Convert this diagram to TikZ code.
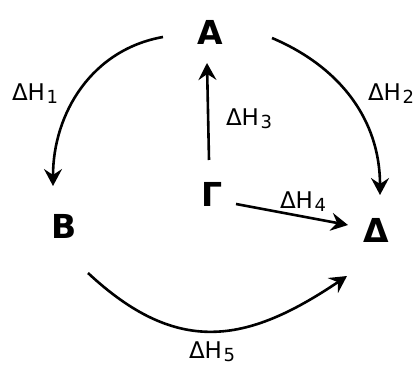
\documentclass[tikz,border=0pt]{standalone}
\usepackage{fontspec}
\setmainfont{DejaVu Sans}
\usetikzlibrary{arrows.meta}
\tikzset{
  species/.style={font=\fontsize{33}{33}\selectfont\bfseries, inner sep=0pt},
  lbl/.style={font=\fontsize{23}{23}\selectfont, inner sep=0pt},
  arr/.style={line width=2.6pt, -{Stealth[length=17pt,width=18pt,inset=6pt]}}
}
\newcommand{\dH}[1]{ΔH{\fontsize{18}{18}\selectfont\raisebox{-3pt}{\kern1.5pt#1}}}
\begin{document}
\begin{tikzpicture}[x=1pt,y=1pt]
\useasboundingbox (0,0) rectangle (417,367);
\node[species] (A) at (210,335) {A};
\node[species] (B) at (64,141) {B};
\node[species] (G) at (212,173) {Γ};
\node[species] (D) at (376,137) {Δ};

\draw[arr] ([shift={(-47,-5)}]A.center) to[out=190,in=90] ([shift={(-11,40)}]B.center);
\draw[arr] ([shift={(62,-6)}]A.center) to[out=-23,in=90] ([shift={(4,35)}]D.center);
\draw[arr] ([shift={(-3,34)}]G.center) -- ([shift={(-3,-31)}]A.center);
\draw[arr] ([shift={(24,-10)}]G.center) -- ([shift={(-28,5)}]D.center);
\draw[arr] ([shift={(24,-47)}]B.center) to[out=-43,in=214,looseness=1.2] ([shift={(-29,-46)}]D.center);

\node[lbl] (l1) at (35,273) {\dH{1}};
\node[lbl] (l2) at (391,273) {\dH{2}};
\node[lbl] (l3) at (249,248) {\dH{3}};
\node[lbl] (l4) at (303,165) {\dH{4}};
\node[lbl] (l5) at (212,15) {\dH{5}};
\end{tikzpicture}
\end{document}
